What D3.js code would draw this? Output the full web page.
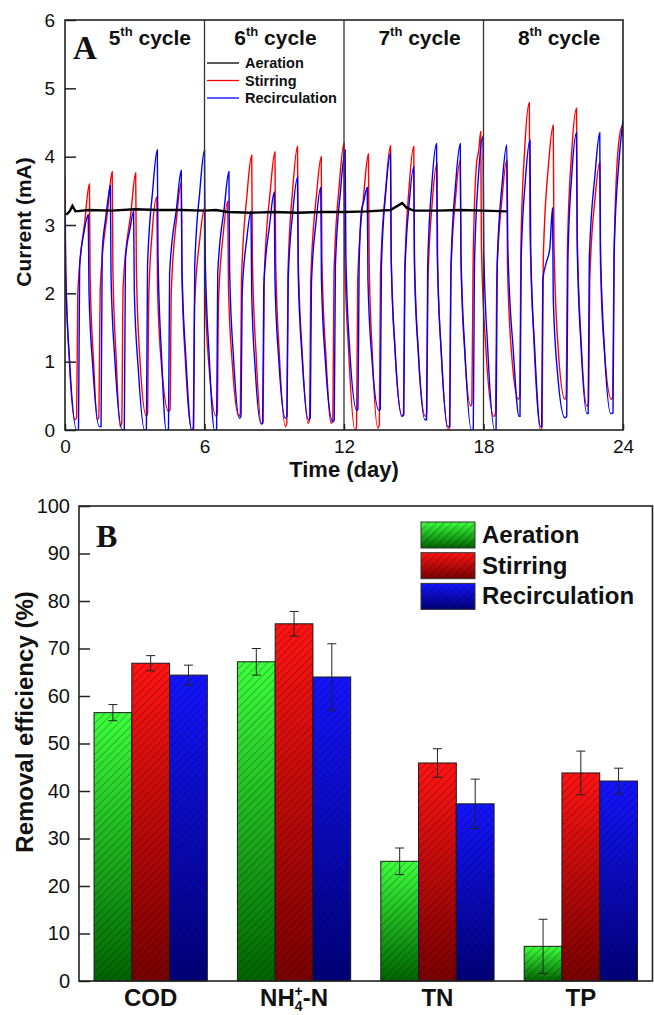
<!DOCTYPE html>
<html>
<head>
<meta charset="utf-8">
<script src="https://cdn.jsdelivr.net/npm/d3@7"></script>
<style>
body { margin: 0; background: #fff; }
svg text { font-family: "Liberation Sans", Arial, sans-serif; fill: #111; }
.panel-letter { font-family: "Liberation Serif", "Times New Roman", serif; font-weight: bold; }
</style>
</head>
<body>
<svg id="fig" width="654" height="1015"></svg>
<script>
// ---------- panel A data : current (mA) vs time (day) ----------
var timeTicks = [0, 6, 12, 18, 24];
var currentTicks = [0, 1, 2, 3, 4, 5, 6];
var cycleDividers = [6, 12, 18];
var cycleNumbers = ["5", "6", "7", "8"];
var seriesA = ["Aeration", "Stirring", "Recirculation"];

var aeration = [[0.05,3.15],[0.2,3.2],[0.32,3.28],[0.45,3.2],[1,3.22],[2,3.21],[3,3.23],[4,3.22],[5,3.22],
  [6,3.21],[6.5,3.22],[7,3.19],[8,3.18],[9,3.19],[10,3.18],[11,3.19],[12,3.19],[13,3.2],[14,3.22],
  [14.3,3.28],[14.5,3.32],[14.7,3.25],[15,3.21],[16,3.21],[17,3.22],[18,3.21],[19,3.2]];

var stirring = [[0,3.7],[0.03,2.4],[0.18,1.05],[0.43,0.15],
  [0.5,0.18],[0.55,2],[0.85,3.05],[1.05,3.6],[1.08,2.25],[1.23,1],[1.38,0.15],
  [1.45,0.18],[1.52,2.1],[1.83,3.2],[2.03,3.78],[2.06,2.35],[2.2,1.05],[2.37,0.05],
  [2.44,0.1],[2.5,2.1],[2.84,3.2],[3.04,3.76],[3.07,2.35],[3.22,1.05],[3.5,0.2],
  [3.55,0.25],[3.6,1.9],[3.75,2.9],[3.95,3.41],[3.98,2.1],[4.15,0.95],[4.46,0.27],
  [4.52,0.3],[4.57,2],[4.8,3.1],[5,3.62],[5.03,2.25],[5.18,1],[5.45,0],
  [5.52,0.05],[5.57,1.8],[5.8,2.8],[6,3.25],[6.03,2],[6.2,0.9],[6.5,0.2],
  [6.55,0.25],[6.6,1.85],[6.8,2.85],[7,3.35],[7.03,2.1],[7.2,0.95],[7.48,0.2],
  [7.54,0.25],[7.59,2.2],[7.83,3.45],[8.03,4.02],[8.06,2.5],[8.22,1.1],[8.45,0.08],
  [8.52,0.12],[8.57,2.25],[8.83,3.5],[9.03,4.07],[9.06,2.5],[9.22,1.1],[9.48,0.05],
  [9.54,0.1],[9.59,2.3],[9.8,3.55],[10,4.15],[10.03,2.55],[10.2,1.15],[10.45,0.1],
  [10.52,0.15],[10.57,2.2],[10.82,3.45],[11.02,4],[11.05,2.5],[11.22,1.1],[11.45,0.1],
  [11.52,0.15],[11.57,2.3],[11.8,3.6],[12,4.2],[12.03,2.6],[12.2,1.15],[12.47,0],
  [12.54,0.05],[12.59,2.2],[12.85,3.45],[13.05,4.04],[13.08,2.5],[13.22,1.1],[13.45,0.03],
  [13.52,0.08],[13.57,2.3],[13.8,3.55],[14,4.16],[14.03,2.55],[14.2,1.15],[14.5,0.2],
  [14.56,0.25],[14.61,2.3],[14.8,3.55],[15,4.15],[15.03,2.55],[15.2,1.15],[15.5,0.2],
  [15.56,0.25],[15.61,2.15],[15.8,3.35],[16,3.9],[16.03,2.4],[16.2,1.05],[16.47,0],
  [16.54,0.05],[16.59,2.2],[16.8,3.4],[17,3.95],[17.03,2.45],[17.2,1.1],[17.45,0.35],
  [17.5,0.4],[17.55,2.4],[17.7,3.9],[17.8,4.1],[17.88,4.37],[17.91,2.7],[18.1,1.2],[18.45,0.2],
  [18.52,0.25],[18.57,2.2],[18.8,3.4],[19,3.95],[19.03,2.45],[19.2,1.15],[19.5,0.45],
  [19.56,0.5],[19.61,2.7],[19.77,4.1],[19.97,4.79],[20,2.95],[20.17,1.3],[20.45,0],
  [20.52,0.05],[20.57,2.5],[20.8,3.9],[21,4.46],[21.03,2.75],[21.2,1.25],[21.5,0.45],
  [21.56,0.5],[21.61,2.65],[21.8,4.1],[22,4.71],[22.03,2.9],[22.2,1.3],[22.45,0.35],
  [22.52,0.4],[22.57,2.2],[22.8,3.4],[23,3.92],[23.03,2.45],[23.2,1.15],[23.5,0.45],
  [23.56,0.5],[23.61,2.5],[23.8,4.15],[23.97,4.45],[24,4.3]];

var recirculation = [[0,3.2],[0.03,2.3],[0.2,1],[0.5,0],
  [0.58,0],[0.63,2.4],[0.82,2.9],[1,3.15],[1.03,2.05],[1.2,0.9],[1.47,0.05],
  [1.55,0.05],[1.6,2.6],[1.75,3.1],[1.88,3.45],[1.95,3.58],[1.98,2.25],[2.15,1],[2.47,0],
  [2.55,0],[2.6,2.5],[2.8,2.95],[2.95,3.2],[2.98,2.05],[3.15,0.9],[3.42,0],
  [3.5,0],[3.55,2.4],[3.77,3.5],[3.97,4.1],[4,2.55],[4.15,1.1],[4.35,0],
  [4.45,0],[4.5,2.3],[4.8,3.25],[5,3.8],[5.03,2.4],[5.2,1.05],[5.45,0],
  [5.53,0],[5.58,2.4],[5.8,3.5],[6,4.1],[6.03,2.55],[6.2,1.1],[6.43,0],
  [6.52,0],[6.57,2.3],[6.85,3.25],[7.05,3.78],[7.08,2.35],[7.25,1.05],[7.5,0.17],
  [7.57,0.2],[7.62,2],[7.82,2.8],[8,3.2],[8.03,2],[8.18,0.9],[8.42,0.1],
  [8.5,0.1],[8.55,2.1],[8.8,3],[9,3.48],[9.03,2.2],[9.2,1],[9.48,0.17],
  [9.55,0.2],[9.6,2.2],[9.8,3.2],[10,3.7],[10.03,2.3],[10.2,1.05],[10.47,0.15],
  [10.55,0.18],[10.6,2.15],[10.8,3.05],[11,3.55],[11.03,2.2],[11.2,1],[11.52,0.12],
  [11.58,0.15],[11.63,2.4],[11.85,3.5],[12.05,4.1],[12.08,2.55],[12.25,1.15],[12.55,0.29],
  [12.6,0.3],[12.65,2.4],[12.75,3.2],[12.85,3.35],[13,3.55],[13.03,2.2],[13.2,1.05],[13.5,0.29],
  [13.56,0.3],[13.61,2.4],[13.8,3.5],[14,4.05],[14.03,2.5],[14.2,1.15],[14.5,0.2],
  [14.57,0.22],[14.62,2.3],[14.8,3.3],[15,3.85],[15.03,2.4],[15.2,1.1],[15.48,0.15],
  [15.55,0.15],[15.6,2.4],[15.78,3.6],[15.98,4.19],[16.01,2.6],[16.18,1.15],[16.47,0.05],
  [16.55,0.05],[16.6,2.4],[16.8,3.6],[17,4.19],[17.03,2.6],[17.2,1.15],[17.48,0],
  [17.56,0],[17.61,2.4],[17.78,3.7],[17.98,4.3],[18.01,2.65],[18.18,1.2],[18.48,0],
  [18.54,0],[18.59,2.45],[18.8,3.6],[19,4.17],[19.05,2.63],[19.28,1.17],[19.53,0.2],
  [19.57,0.2],[19.62,2.5],[19.8,3.65],[20,4.24],[20.03,2.65],[20.2,1.2],[20.45,0.05],
  [20.5,0.05],[20.55,2.2],[20.7,2.45],[20.85,2.65],[20.97,3.25],[21,1.95],[21.18,0.85],[21.5,0.18],
  [21.58,0.2],[21.63,2.5],[21.8,3.75],[22,4.35],[22.03,2.7],[22.2,1.2],[22.45,0.24],
  [22.5,0.24],[22.55,2.5],[22.8,3.75],[23,4.35],[23.03,2.7],[23.2,1.2],[23.48,0.24],
  [23.57,0.25],[23.62,2.6],[23.82,3.9],[24,4.54]];

// ---------- panel B data : removal efficiency (%) ----------
var categories = ["COD", "NH4+-N", "TN", "TP"];
var seriesB = ["Aeration", "Stirring", "Recirculation"];
var efficiencyTicks = [0, 10, 20, 30, 40, 50, 60, 70, 80, 90, 100];
var aerationEff = [56.5, 67.2, 25.2, 7.3];
var aerationErr = [1.7, 2.8, 2.8, 5.7];
var stirringEff = [66.9, 75.2, 45.9, 43.8];
var stirringErr = [1.6, 2.6, 3.0, 4.6];
var recircEff = [64.4, 64.0, 37.3, 42.1];
var recircErr = [2.1, 7.0, 5.2, 2.7];

var svg = d3.select("#fig");

// =================== panel A ===================
var A = {left: 65, right: 623, top: 20, bottom: 430};
var xA = d3.scaleLinear().domain([0, 24]).range([A.left, A.right]);
var yA = d3.scaleLinear().domain([0, 6]).range([A.bottom, A.top]);
var lineColor = d3.scaleOrdinal().domain(seriesA).range(["#000000", "#ff0000", "#0000ff"]);

svg.append("clipPath").attr("id", "clipA")
  .append("rect").attr("x", A.left).attr("y", A.top)
  .attr("width", A.right - A.left).attr("height", A.bottom - A.top);

var line = d3.line()
  .x(function (d) { return xA(d[0]); })
  .y(function (d) { return yA(d[1]); })
  .curve(d3.curveMonotoneX);

var gLines = svg.append("g").attr("clip-path", "url(#clipA)");
gLines.append("path").datum(stirring)
  .attr("d", line).attr("fill", "none")
  .attr("stroke", lineColor("Stirring")).attr("stroke-width", 1.4);
gLines.append("path").datum(recirculation)
  .attr("d", line).attr("fill", "none")
  .attr("stroke", lineColor("Recirculation")).attr("stroke-width", 1.4);
gLines.append("path").datum(aeration)
  .attr("d", line.curve(d3.curveLinear)).attr("fill", "none")
  .attr("stroke", lineColor("Aeration")).attr("stroke-width", 2.4);

// cycle dividers
svg.append("g").selectAll("line").data(cycleDividers).enter().append("line")
  .attr("x1", function (d) { return xA(d); }).attr("x2", function (d) { return xA(d); })
  .attr("y1", A.top).attr("y2", A.bottom)
  .attr("stroke", "#333").attr("stroke-width", 1.3);

// axes
svg.append("g").attr("transform", "translate(" + A.left + ",0)")
  .call(d3.axisLeft(yA).tickValues(currentTicks).tickFormat(d3.format("d"))
    .tickSizeInner(-11).tickSizeOuter(0).tickPadding(10))
  .call(function (g) {
    g.select(".domain").remove();
    g.selectAll(".tick line").attr("stroke", "#222").attr("stroke-width", 1.5);
    g.selectAll("text").attr("font-size", 19).attr("fill", "#111");
  });
svg.append("g").attr("transform", "translate(0," + A.bottom + ")")
  .call(d3.axisBottom(xA).tickValues(timeTicks).tickFormat(d3.format("d"))
    .tickSizeInner(-6).tickSizeOuter(0).tickPadding(10))
  .call(function (g) {
    g.select(".domain").remove();
    g.selectAll(".tick line").attr("stroke", "#222").attr("stroke-width", 1.5);
    g.selectAll("text").attr("font-size", 19).attr("fill", "#111");
  });

svg.append("rect").attr("x", A.left).attr("y", A.top)
  .attr("width", A.right - A.left).attr("height", A.bottom - A.top)
  .attr("fill", "none").attr("stroke", "#222").attr("stroke-width", 1.6);

svg.append("text").attr("x", 344).attr("y", 477)
  .attr("text-anchor", "middle").attr("font-size", 22).attr("font-weight", "bold")
  .text("Time (day)");
svg.append("text").attr("transform", "translate(31,222) rotate(-90)")
  .attr("text-anchor", "middle").attr("font-size", 21).attr("font-weight", "bold")
  .text("Current (mA)");

svg.append("text").attr("class", "panel-letter").attr("x", 73).attr("y", 59)
  .attr("font-size", 33).text("A");

// cycle labels (positions in days)
var cycleLabelPos = [3.65, 9.05, 15.25, 21.25];
cycleNumbers.forEach(function (n, i) {
  var t = svg.append("text").attr("x", xA(cycleLabelPos[i])).attr("y", 45)
    .attr("text-anchor", "middle").attr("font-size", 21).attr("font-weight", "bold");
  t.append("tspan").text(n);
  t.append("tspan").attr("font-size", 13).attr("dy", -9).text("th");
  t.append("tspan").attr("dy", 9).text(" cycle");
});

// legend A
var legA = svg.append("g").attr("transform", "translate(207,63)");
seriesA.forEach(function (s, i) {
  var y = i * 17.5;
  legA.append("line").attr("x1", 0).attr("x2", 32).attr("y1", y).attr("y2", y)
    .attr("stroke", lineColor(s)).attr("stroke-width", 1.3);
  legA.append("text").attr("x", 38).attr("y", y + 5)
    .attr("font-size", 14.5).attr("font-weight", "bold").text(s);
});

// =================== panel B ===================
var B = {left: 79, right: 652.5, top: 506, bottom: 981};
var xB = d3.scaleBand().domain(categories).range([B.left, B.right])
  .paddingInner(0.21).paddingOuter(0.105);
var xInner = d3.scaleBand().domain(seriesB).range([0, xB.bandwidth()]);
var yB = d3.scaleLinear().domain([0, 100]).range([B.bottom, B.top]);

var defs = svg.append("defs");
var gradStops = {
  Aeration: ["#3dff3d", "#006400"],
  Stirring: ["#ff1414", "#780000"],
  Recirculation: ["#1414ff", "#000078"]
};
seriesB.forEach(function (s) {
  var g = defs.append("linearGradient").attr("id", "grad-" + s)
    .attr("x1", 0).attr("y1", 0).attr("x2", 0).attr("y2", 1);
  g.append("stop").attr("offset", "0%").attr("stop-color", gradStops[s][0]);
  g.append("stop").attr("offset", "100%").attr("stop-color", gradStops[s][1]);
});
var hatch = defs.append("pattern").attr("id", "hatch")
  .attr("patternUnits", "userSpaceOnUse").attr("width", 5.5).attr("height", 5.5)
  .attr("patternTransform", "rotate(45)");
hatch.append("line").attr("x1", 0).attr("y1", 0).attr("x2", 0).attr("y2", 5.5)
  .attr("stroke", "rgba(0,0,0,0.6)").attr("stroke-width", 0.8);

var table = [];
categories.forEach(function (c, i) {
  table.push({cat: c, s: "Aeration", v: aerationEff[i], e: aerationErr[i]});
  table.push({cat: c, s: "Stirring", v: stirringEff[i], e: stirringErr[i]});
  table.push({cat: c, s: "Recirculation", v: recircEff[i], e: recircErr[i]});
});

var bars = svg.append("g").selectAll("g").data(table).enter().append("g")
  .attr("transform", function (d) { return "translate(" + (xB(d.cat) + xInner(d.s)) + ",0)"; });
bars.append("rect")
  .attr("y", function (d) { return yB(d.v); })
  .attr("width", xInner.bandwidth())
  .attr("height", function (d) { return yB(0) - yB(d.v); })
  .attr("fill", function (d) { return "url(#grad-" + d.s + ")"; });
bars.append("rect")
  .attr("y", function (d) { return yB(d.v); })
  .attr("width", xInner.bandwidth())
  .attr("height", function (d) { return yB(0) - yB(d.v); })
  .attr("fill", "url(#hatch)").attr("stroke", "#1a1a1a").attr("stroke-width", 1);

// error bars
var cx = xInner.bandwidth() / 2;
bars.append("line")
  .attr("x1", cx).attr("x2", cx)
  .attr("y1", function (d) { return yB(d.v + d.e); })
  .attr("y2", function (d) { return yB(d.v - d.e); })
  .attr("stroke", "#222").attr("stroke-width", 1);
bars.append("line")
  .attr("x1", cx - 4.5).attr("x2", cx + 4.5)
  .attr("y1", function (d) { return yB(d.v + d.e); })
  .attr("y2", function (d) { return yB(d.v + d.e); })
  .attr("stroke", "#222").attr("stroke-width", 1);
bars.append("line")
  .attr("x1", cx - 4.5).attr("x2", cx + 4.5)
  .attr("y1", function (d) { return yB(d.v - d.e); })
  .attr("y2", function (d) { return yB(d.v - d.e); })
  .attr("stroke", "#222").attr("stroke-width", 1);

// axes B
svg.append("g").attr("transform", "translate(" + B.left + ",0)")
  .call(d3.axisLeft(yB).tickValues(efficiencyTicks).tickFormat(d3.format("d"))
    .tickSizeInner(-11).tickSizeOuter(0).tickPadding(9))
  .call(function (g) {
    g.select(".domain").remove();
    g.selectAll(".tick line").attr("stroke", "#222").attr("stroke-width", 1.5);
    g.selectAll("text").attr("font-size", 20).attr("fill", "#111");
  });

svg.append("rect").attr("x", B.left).attr("y", B.top)
  .attr("width", B.right - B.left).attr("height", B.bottom - B.top)
  .attr("fill", "none").attr("stroke", "#222").attr("stroke-width", 1.6);

// category labels
categories.forEach(function (c) {
  var t = svg.append("text").attr("x", xB(c) + xB.bandwidth() / 2).attr("y", 1006)
    .attr("text-anchor", "middle").attr("font-size", 24).attr("font-weight", "bold");
  if (c === "NH4+-N") {
    t.append("tspan").text("NH");
    t.append("tspan").attr("font-size", 14).attr("dy", 5).text("4");
    t.append("tspan").attr("font-size", 14).attr("dy", -15).attr("dx", -8).text("+");
    t.append("tspan").attr("dy", 10).text("-N");
  } else {
    t.text(c);
  }
});

svg.append("text").attr("transform", "translate(33,722) rotate(-90)")
  .attr("text-anchor", "middle").attr("font-size", 24).attr("font-weight", "bold")
  .text("Removal efficiency (%)");

svg.append("text").attr("class", "panel-letter").attr("x", 96).attr("y", 547)
  .attr("font-size", 32).text("B");

// legend B
var legB = svg.append("g").attr("transform", "translate(421,522)");
seriesB.forEach(function (s, i) {
  var y = i * 30.7;
  legB.append("rect").attr("x", 0).attr("y", y).attr("width", 54).attr("height", 26)
    .attr("fill", "url(#grad-" + s + ")");
  legB.append("rect").attr("x", 0).attr("y", y).attr("width", 54).attr("height", 26)
    .attr("fill", "url(#hatch)").attr("stroke", "#333").attr("stroke-width", 1);
  legB.append("text").attr("x", 61).attr("y", y + 21)
    .attr("font-size", 24).attr("font-weight", "bold").text(s);
});
</script>
</body>
</html>
